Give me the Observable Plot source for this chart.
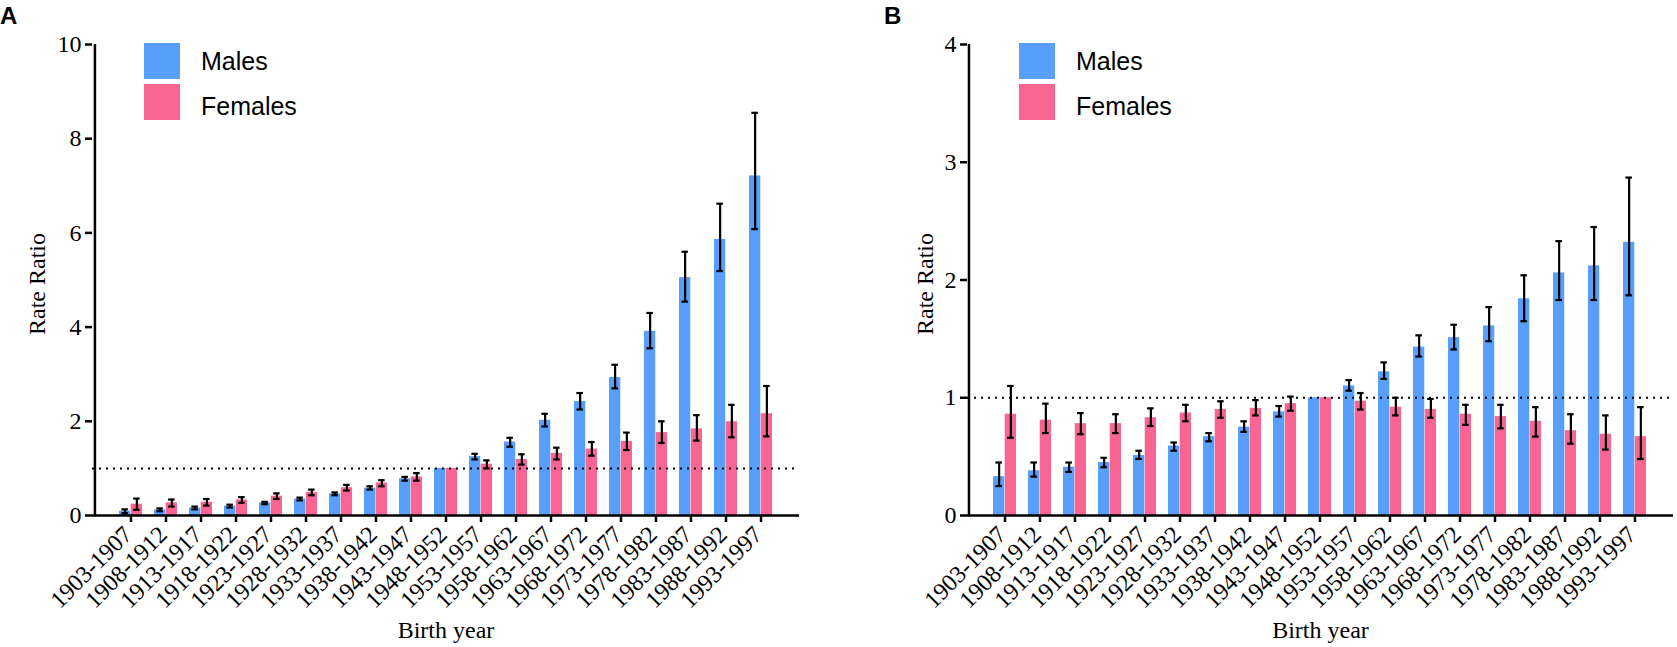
<!DOCTYPE html>
<html><head><meta charset="utf-8">
<script src="https://cdn.jsdelivr.net/npm/d3@7"></script>
<script src="https://cdn.jsdelivr.net/npm/@observablehq/plot@0.6"></script>
<style>
body{margin:0;background:#fff;}
#wrap{position:relative;width:1677px;height:647px;overflow:hidden;background:#fff;}
.panel{position:absolute;top:0;}
#overlay{position:absolute;left:0;top:0;pointer-events:none;}
</style></head><body>
<div id="wrap"><div id="pa" class="panel" style="left:0"></div><div id="pb" class="panel" style="left:839px"></div><svg id="overlay" width="1677" height="647"></svg></div>
<script>
const categories = ["1903-1907","1908-1912","1913-1917","1918-1922","1923-1927","1928-1932","1933-1937","1938-1942","1943-1947","1948-1952","1953-1957","1958-1962","1963-1967","1968-1972","1973-1977","1978-1982","1983-1987","1988-1992","1993-1997"];

const maleA    = [0.09,0.12,0.16,0.20,0.27,0.35,0.46,0.58,0.78,1,1.25,1.56,2.02,2.42,2.93,3.91,5.05,5.86,7.21];
const maleALo  = [0.05,0.09,0.13,0.17,0.24,0.32,0.43,0.55,0.74,null,1.19,1.46,1.89,2.25,2.70,3.55,4.54,5.19,6.08];
const maleAHi  = [0.13,0.15,0.19,0.23,0.29,0.38,0.49,0.62,0.82,null,1.31,1.65,2.16,2.60,3.20,4.30,5.60,6.62,8.55];
const femaleA  = [0.24,0.27,0.28,0.33,0.41,0.49,0.59,0.69,0.82,1,1.09,1.19,1.32,1.41,1.57,1.76,1.84,1.99,2.16];
const femaleALo= [0.12,0.19,0.21,0.27,0.35,0.43,0.53,0.62,0.74,null,1.00,1.08,1.19,1.27,1.39,1.54,1.59,1.66,1.68];
const femaleAHi= [0.36,0.34,0.35,0.39,0.47,0.55,0.65,0.75,0.90,null,1.17,1.30,1.44,1.56,1.76,2.00,2.13,2.35,2.75];

const maleB    = [0.33,0.38,0.41,0.45,0.51,0.59,0.67,0.75,0.88,1,1.10,1.22,1.43,1.51,1.61,1.84,2.06,2.12,2.32];
const maleBLo  = [0.25,0.33,0.37,0.41,0.48,0.55,0.63,0.71,0.84,null,1.06,1.16,1.35,1.41,1.48,1.65,1.83,1.83,1.87];
const maleBHi  = [0.45,0.45,0.45,0.49,0.55,0.62,0.70,0.80,0.93,null,1.15,1.30,1.53,1.62,1.77,2.04,2.33,2.45,2.87];
const femaleB  = [0.86,0.81,0.78,0.78,0.83,0.87,0.90,0.91,0.95,1,0.97,0.92,0.90,0.86,0.84,0.80,0.72,0.69,0.67];
const femaleBLo= [0.66,0.70,0.69,0.70,0.76,0.80,0.83,0.85,0.89,null,0.90,0.85,0.83,0.77,0.74,0.67,0.61,0.56,0.48];
const femaleBHi= [1.10,0.95,0.87,0.86,0.91,0.94,0.97,0.98,1.01,null,1.04,1.00,0.99,0.94,0.94,0.92,0.86,0.85,0.92];

const ticksA = [0,2,4,6,8,10];
const ticksB = [0,1,2,3,4];
const seriesNames = ["Males","Females"];

const BLUE = "#579ffa", PINK = "#f86592";
const SERIF = "Liberation Serif";
const SANS = "Liberation Sans";

function panel(el, o) {
  const rows = categories.map((c,i)=>({cat:c, m:o.m[i], mLo:o.mLo[i], mHi:o.mHi[i], f:o.f[i], fLo:o.fLo[i], fHi:o.fHi[i]}));
  const errs = rows.filter(d => d.mLo != null);
  const pi = 0.334, po = 0.69;
  const rangeW = o.width - o.marginLeft - o.marginRight;
  const step = rangeW / (categories.length - pi + 2*po);
  const bw = step*(1-pi);
  const capW = 7;
  const capInset = bw/2 - capW/2;
  const ew = 2.2;
  const axisDx = -(step*po + bw/2);
  const chart = Plot.plot({
    width: o.width, height: 647,
    marginTop: 44, marginBottom: 132, marginLeft: o.marginLeft, marginRight: o.marginRight,
    style: {fontFamily: SERIF, color: "#000", background: "#fff", overflow: "visible"},
    x: {domain: categories, paddingInner: pi, paddingOuter: po, label: null},
    y: {domain: [0, o.yMax], label: null},
    marks: [
      Plot.barY(rows, {x:"cat", y:"m", fill: BLUE, insetRight: bw/2}),
      Plot.barY(rows, {x:"cat", y:"f", fill: PINK, insetLeft: bw/2}),
      Plot.ruleY([1], {stroke:"#000", strokeWidth: 2, strokeDasharray: "2,5"}),
      Plot.ruleX(errs, {x:"cat", y1:"mLo", y2:"mHi", dx: -bw/4, stroke:"#000", strokeWidth: ew}),
      Plot.tickY(errs, {x:"cat", y:"mLo", dx: -bw/4, insetLeft: capInset, insetRight: capInset, stroke:"#000", strokeWidth: ew}),
      Plot.tickY(errs, {x:"cat", y:"mHi", dx: -bw/4, insetLeft: capInset, insetRight: capInset, stroke:"#000", strokeWidth: ew}),
      Plot.ruleX(errs, {x:"cat", y1:"fLo", y2:"fHi", dx: bw/4, stroke:"#000", strokeWidth: ew}),
      Plot.tickY(errs, {x:"cat", y:"fLo", dx: bw/4, insetLeft: capInset, insetRight: capInset, stroke:"#000", strokeWidth: ew}),
      Plot.tickY(errs, {x:"cat", y:"fHi", dx: bw/4, insetLeft: capInset, insetRight: capInset, stroke:"#000", strokeWidth: ew}),
      Plot.ruleY([0], {stroke:"#000", strokeWidth: 2.5}),
      Plot.ruleX([categories[0]], {x: d=>d, dx: axisDx, stroke:"#000", strokeWidth: 2.5}),
      Plot.axisY({ticks: o.ticks, tickFormat: d3.format("d"), tickSize: 7, tickPadding: 4, fontSize: 24, strokeWidth: 2.5, label: null}),
      Plot.axisX({text: null, tickSize: 7, strokeWidth: 2.5, label: null}),
      Plot.axisX({tickRotate: -45, tickSize: 0, tickPadding: 15, dx: -3, fontSize: 24, label: null}),
      Plot.text(["Rate Ratio"], {text: d=>d, frameAnchor: "left", textAnchor: "middle", rotate: -90, dx: o.ylabelDx, dy: 4, fontSize: 24, fill:"#000"}),
      Plot.text(["Birth year"], {text: d=>d, frameAnchor: "bottom", dy: 122, fontSize: 24, fill:"#000"})
    ]
  });
  d3.select(chart).selectAll("text").style("font-size", "24px").style("font-family", SERIF);
  el.appendChild(chart);
}

panel(document.getElementById("pa"), {m:maleA, mLo:maleALo, mHi:maleAHi, f:femaleA, fLo:femaleALo, fHi:femaleAHi, yMax:10, ticks:ticksA, width:839, marginLeft:92, marginRight:40, ylabelDx:-55});
panel(document.getElementById("pb"), {m:maleB, mLo:maleBLo, mHi:maleBHi, f:femaleB, fLo:femaleBLo, fHi:femaleBHi, yMax:4, ticks:ticksB, width:838, marginLeft:128, marginRight:4, ylabelDx:-42});

// legends and panel letters
const ov = d3.select("#overlay");
const colors = [BLUE, PINK];
[{axisX:92, letter:"A", lx:0},{axisX:967, letter:"B", lx:884}].forEach(p => {
  ov.append("text").attr("x", p.lx).attr("y", 24).attr("font-family", SANS).attr("font-weight", "bold").attr("font-size", 24).attr("fill", "#000").text(p.letter);
  seriesNames.forEach((s,i) => {
    ov.append("rect").attr("x", p.axisX + 52).attr("y", 43 + i*41).attr("width", 36).attr("height", 36).attr("fill", colors[i]);
    ov.append("text").attr("x", p.axisX + 109).attr("y", 70 + i*45).attr("font-family", SANS).attr("font-size", 25).attr("fill", "#000").text(s);
  });
});
</script>
</body></html>
